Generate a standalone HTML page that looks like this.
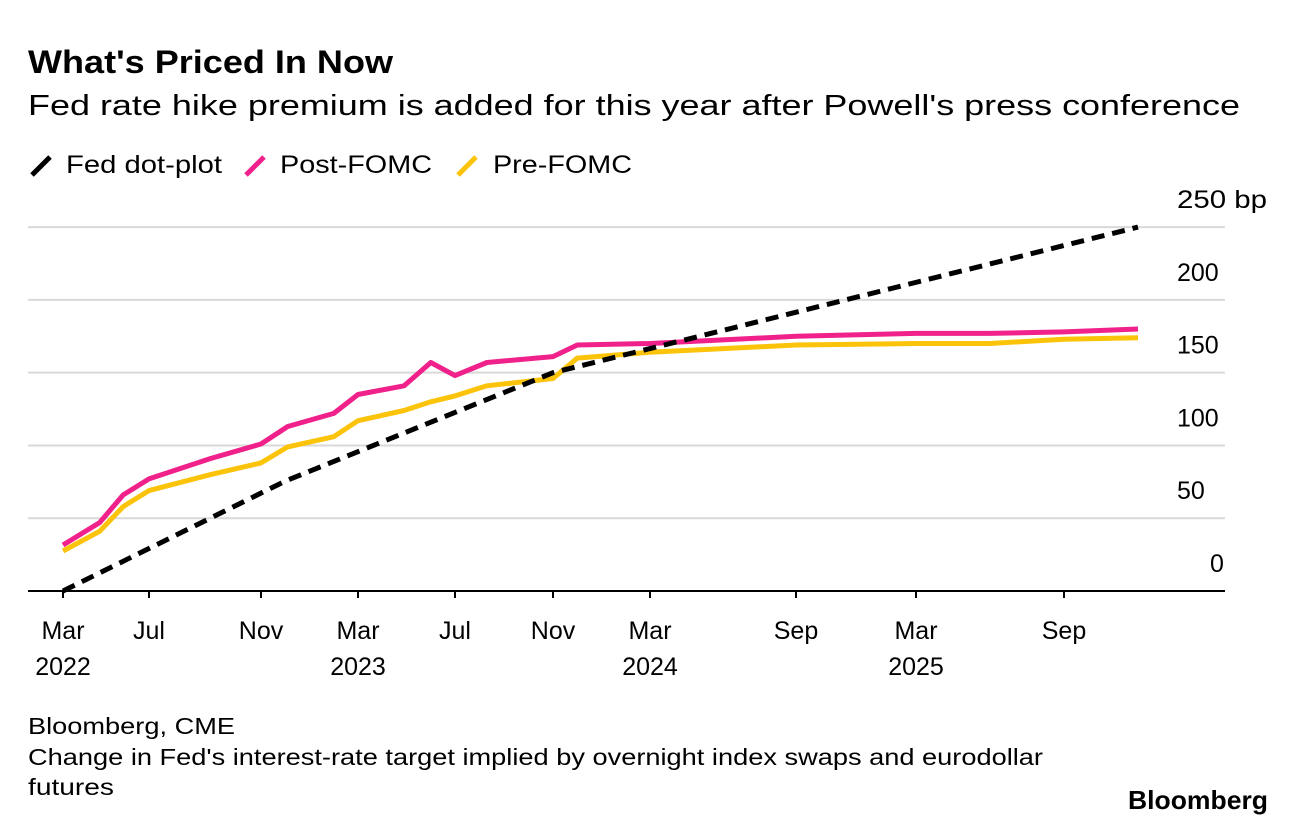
<!DOCTYPE html>
<html><head><meta charset="utf-8"><style>
body{margin:0;background:#fff;font-family:"Liberation Sans",Arial,sans-serif;}
svg text{font-family:"Liberation Sans",Arial,sans-serif;}
</style></head><body>
<svg id="c" width="1296" height="826">
<text x="28" y="73" font-size="32" font-weight="bold" fill="#000" textLength="365" lengthAdjust="spacingAndGlyphs">What's Priced In Now</text>
<text x="28" y="115" font-size="29" fill="#000" textLength="1212" lengthAdjust="spacingAndGlyphs">Fed rate hike premium is added for this year after Powell's press conference</text>
<g>
<g><line x1="32" y1="175" x2="50" y2="157" stroke="#000" stroke-width="5"/><text x="66" y="173" font-size="25" textLength="156" lengthAdjust="spacingAndGlyphs">Fed dot-plot</text></g>
<g><line x1="246" y1="175" x2="264" y2="157" stroke="#f0218a" stroke-width="5"/><text x="280" y="173" font-size="25" textLength="152" lengthAdjust="spacingAndGlyphs">Post-FOMC</text></g>
<g><line x1="458" y1="175" x2="476" y2="157" stroke="#fcc30b" stroke-width="5"/><text x="493" y="173" font-size="25" textLength="139" lengthAdjust="spacingAndGlyphs">Pre-FOMC</text></g>
</g>
<g id="plot"></g>
<text x="28" y="734" font-size="23" textLength="207" lengthAdjust="spacingAndGlyphs">Bloomberg, CME</text>
<text x="28" y="765" font-size="23" textLength="1015" lengthAdjust="spacingAndGlyphs">Change in Fed's interest-rate target implied by overnight index swaps and eurodollar</text>
<text x="28" y="795" font-size="23" textLength="86" lengthAdjust="spacingAndGlyphs">futures</text>
<text x="1128" y="809" font-size="26" font-weight="bold" textLength="140" lengthAdjust="spacingAndGlyphs">Bloomberg</text>
</svg>
<script>
// months since Jan 2022 (Jan=0)
const postX=[2,3.7,4.8,6,8.2,10,11.1,13,14,15.9,17,18,19.3,22,23,26,32,38,41,44,48];
const postY=[31.6,47,66,77,91,101,113,122,135,141,157,148,157,161,169,170,175,177,177,178,180];
const preX=[2,3.7,4.8,6,8.2,10,11.1,13,14,15.9,17,18,19.3,22,23,26,32,38,41,44,48];
const preY=[27.5,41,58,69,80,88,99,106,117,124,130,134,141,146,160,164,169,170,170,173,174];
const dotX=[2,11,22,48];
const dotY=[0,75.5,150,250];
const tickMonths=[2,6,10,14,18,22,26,32,38,44];
const tickLabels=["Mar","Jul","Nov","Mar","Jul","Nov","Mar","Sep","Mar","Sep"];
const yearLabels=["2022","","","2023","","","2024","","2025",""];
const yTicks=[0,50,100,150,200,250];
const anchorM=[2,6,10,14,18,22,26,32,38,44,48];
const anchorP=[63,149,261,358,455,553,650,796,916,1064,1138];
function xs(m){for(let i=0;i<anchorM.length-1;i++){if(m<=anchorM[i+1]||i==anchorM.length-2){const t=(m-anchorM[i])/(anchorM[i+1]-anchorM[i]);return anchorP[i]+t*(anchorP[i+1]-anchorP[i]);}}}
function ys(v){return 591-v*1.4556;}
const NS="http://www.w3.org/2000/svg",g=document.getElementById('plot');
function mk(t,a){const e=document.createElementNS(NS,t);for(const k in a)e.setAttribute(k,a[k]);g.appendChild(e);return e;}
yTicks.forEach(v=>{
 if(v>0){const l=mk('line',{x1:28,x2:1225,y1:ys(v),y2:ys(v),stroke:'#d9d9d9','stroke-width':2});
 
 }
 const t=mk('text',{x:v==0?1210:1177,y:ys(v)-19,'font-size':25});
 t.textContent=v==250?'250 bp':String(v);
 if(v==250){t.setAttribute('textLength','90');t.setAttribute('lengthAdjust','spacingAndGlyphs');}
 
 
});
const ax=mk('line',{x1:28,x2:1225,y1:591,y2:591,stroke:'#000','stroke-width':2});


tickMonths.forEach((m,i)=>{
 const x=xs(m);
 const tk=mk('line',{x1:x,x2:x,y1:591,y2:598,stroke:'#000','stroke-width':2});
 
 
 const t=mk('text',{x:x,y:639,'font-size':25,'text-anchor':'middle'});
 t.textContent=tickLabels[i];
 
 
 if(yearLabels[i]){const y=mk('text',{x:x,y:675,'font-size':25,'text-anchor':'middle'});
 y.textContent=yearLabels[i];
 
 }
});
function line(X,Y,col,dash,name){
 const d=X.map((m,i)=>(i?'L':'M')+xs(m).toFixed(1)+','+ys(Y[i]).toFixed(1)).join('');
 const p=mk('path',{d:d,fill:'none',stroke:col,'stroke-width':5,'stroke-linejoin':'round'});
 if(dash)p.setAttribute('stroke-dasharray',dash);
 
 
}
line(preX,preY,'#fcc30b',null,'pre-fomc-line');
line(postX,postY,'#f0218a',null,'post-fomc-line');
line(dotX,dotY,'#000','13 8','fed-dot-plot-line');
</script>
</body></html>
